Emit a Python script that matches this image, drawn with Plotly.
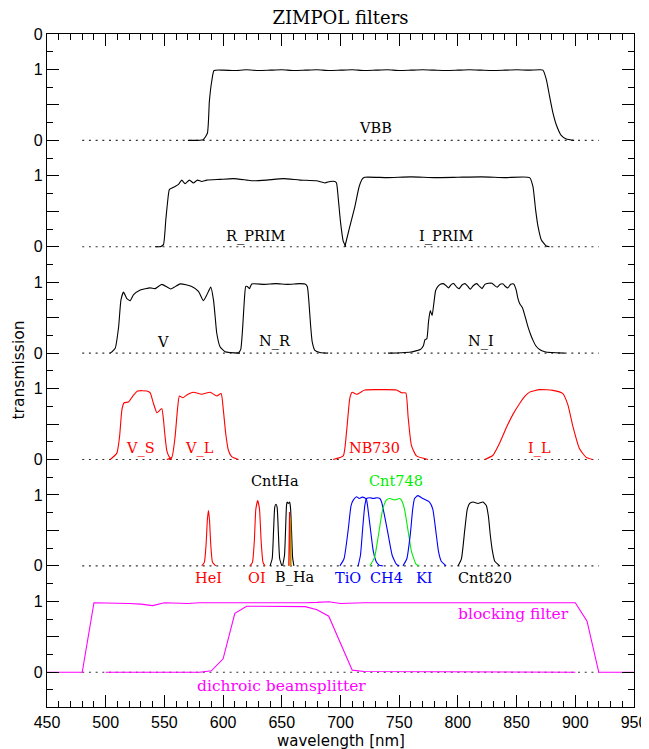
import plotly.graph_objects as go

# ---------------- data (wavelength in nm, transmission 0..1) ----------------
VBB_WL = [570, 583, 586.6, 588.3, 590.3, 592.3, 600, 610, 620, 630, 640, 650, 660, 670, 680, 690,
          700, 710, 720, 730, 740, 750, 760, 770, 780, 790, 800, 810, 820, 830, 840, 850, 860,
          870, 872.4, 875.3, 878.1, 880.9, 883.8, 888, 892.3, 899]
VBB_TR = [0, 0.01, 0.1, 0.55, 0.83, 0.985, 0.99, 0.985, 0.995, 0.985, 0.99, 0.995, 0.985, 0.99,
          0.995, 0.985, 0.99, 0.995, 0.985, 0.99, 0.995, 0.985, 0.99, 0.995, 0.99, 0.985, 0.99,
          0.995, 0.99, 0.985, 0.99, 0.995, 0.99, 0.995, 0.99, 0.86, 0.62, 0.39, 0.22, 0.07, 0.02, 0]

RPRIM_WL = [542, 547, 549.2, 551.2, 552.9, 554.3, 559.1, 562, 564.8, 567.6, 571.3, 574.7, 578.1,
            581.8, 586.1, 597.4, 608.7, 620.1, 625.8, 637.1, 651.3, 665.4, 679.6, 686.7, 691,
            695.2, 696.6, 698, 700, 702.3, 704.6]
RPRIM_TR = [0, 0.005, 0.03, 0.38, 0.66, 0.81, 0.85, 0.88, 0.94, 0.89, 0.94, 0.9, 0.94, 0.92,
            0.94, 0.95, 0.96, 0.94, 0.93, 0.94, 0.96, 0.94, 0.93, 0.9, 0.92, 0.92, 0.9, 0.7,
            0.35, 0.08, 0]

IPRIM_WL = [703.7, 708, 712.3, 715.9, 718.8, 720.7, 740, 760, 780, 800, 820, 840, 861.1, 863.9,
            866.2, 868.2, 871, 875.3, 878]
IPRIM_TR = [0, 0.29, 0.57, 0.85, 0.96, 0.98, 0.975, 0.985, 0.975, 0.98, 0.985, 0.975, 0.975, 0.85,
            0.52, 0.29, 0.1, 0.01, 0]

V_WL = [503.9, 508.1, 511, 513, 515.2, 518, 520.9, 523.6, 529.4, 537.9, 542.1, 547.8, 555.4,
        563.4, 573.3, 579, 583.2, 586.1, 589.5, 591.8, 593.2, 594.6, 597.4, 601.7, 614.4]
V_TR = [0, 0.07, 0.37, 0.75, 0.86, 0.77, 0.74, 0.82, 0.89, 0.92, 0.91, 0.97, 0.905, 0.976, 0.94,
        0.87, 0.74, 0.82, 0.93, 0.75, 0.52, 0.28, 0.09, 0.02, 0]

NR_WL = [613, 615, 616.7, 618.1, 619.3, 620.6, 622.4, 624.4, 635, 645, 655, 665, 669.7, 671.7,
         673.1, 674.5, 675.9, 678.2, 682.5, 689.5]
NR_TR = [0, 0.05, 0.37, 0.75, 0.94, 0.94, 0.91, 0.976, 0.97, 0.98, 0.97, 0.98, 0.975, 0.94, 0.72,
         0.4, 0.16, 0.04, 0.01, 0]

NI_WL = [740.5, 752, 760, 765, 768, 770.5, 772, 773.5, 775, 776.5, 778, 779.5, 781, 783, 785,
         787.5, 790, 792, 794.5, 796.5, 799, 801, 803.5, 806, 808.5, 810.5, 813, 816, 818.5,
         820.5, 823, 826, 829, 831.5, 833.5, 836, 838.5, 840.5, 842.5, 845, 847.5, 849.5, 851,
         852.6, 855, 857.5, 859.7, 862, 864, 866.5, 869.6, 874, 880, 891]
NI_TR = [0, 0.005, 0.015, 0.035, 0.05, 0.1, 0.19, 0.2, 0.45, 0.6, 0.53, 0.7, 0.88, 0.94, 0.97,
         0.98, 0.95, 0.92, 0.97, 0.98, 0.93, 0.91, 0.96, 0.98, 0.94, 0.9, 0.95, 0.98, 0.94, 0.91,
         0.97, 0.985, 0.985, 0.95, 0.93, 0.97, 0.975, 0.94, 0.92, 0.97, 0.975, 0.9, 0.78, 0.7,
         0.64, 0.5, 0.37, 0.26, 0.18, 0.1, 0.05, 0.02, 0.008, 0]

VS_WL = [503.9, 509.5, 511.8, 513.8, 515.7, 519.4, 523.1, 527.1, 535.1, 537.9, 540.7, 543.6,
         545.8, 547.8, 549.2, 550.6, 552, 554, 556.3]
VS_TR = [0, 0.09, 0.32, 0.7, 0.8, 0.81, 0.895, 0.966, 0.966, 0.94, 0.79, 0.66, 0.69, 0.72, 0.56,
         0.32, 0.13, 0.04, 0]

VL_WL = [552, 556.3, 559.1, 561.1, 562.8, 565.7, 569.1, 574.7, 581.8, 588.9, 594.6, 598.3, 600.2,
         602.2, 604.5, 607.3, 613]
VL_TR = [0, 0.03, 0.32, 0.7, 0.895, 0.87, 0.91, 0.948, 0.92, 0.948, 0.896, 0.93, 0.7, 0.37, 0.13,
         0.04, 0]

NB730_WL = [693.8, 702.3, 705.2, 708, 710, 713.7, 720.7, 735, 747.7, 752, 755.6, 757.6, 760.4,
            764.7, 774.6]
NB730_TR = [0, 0.05, 0.4, 0.87, 0.948, 0.92, 0.98, 0.985, 0.98, 0.94, 0.94, 0.6, 0.2, 0.05, 0]

IL_WL = [822.8, 829.9, 835.5, 841.3, 847, 852.6, 857, 861.1, 869.6, 880.9, 889.4, 893.7, 897.9,
         903.6, 909.3, 914.9]
IL_TR = [0, 0.06, 0.23, 0.45, 0.64, 0.79, 0.89, 0.95, 0.985, 0.975, 0.93, 0.77, 0.47, 0.15, 0.03,
         0]

HEI_WL = [581.8, 584, 585.5, 586.6, 587.5, 588.4, 589.5, 591, 593.7]
HEI_TR = [0, 0.05, 0.3, 0.65, 0.78, 0.65, 0.3, 0.05, 0]

OI_WL = [622.9, 625, 626.6, 627.9, 629.5, 631, 632.4, 634, 635.7]
OI_TR = [0, 0.05, 0.35, 0.8, 0.92, 0.8, 0.35, 0.05, 0]

CNTHA_WL = [640, 641.8, 643, 644, 645, 646, 647, 648.2, 650]
CNTHA_TR = [0, 0.1, 0.5, 0.83, 0.87, 0.83, 0.5, 0.1, 0]

BHA_WL = [650.7, 652.3, 653.3, 654, 654.6, 655.6, 656.7, 657.5, 658.4, 659.2, 660.3]
BHA_TR = [0, 0.15, 0.55, 0.85, 0.9, 0.88, 0.9, 0.8, 0.45, 0.12, 0]

NHA_WL = [655.9, 656.35, 656.6, 656.85, 657.3]
NHA_TR = [0, 0.5, 0.76, 0.5, 0]

NHA2_WL = [657.1, 657.35, 657.5, 657.65, 657.9]
NHA2_TR = [0, 0.5, 0.68, 0.5, 0]

TIO_WL = [699.5, 703, 706.5, 709, 711, 713.7, 716, 718.5, 720.5, 722.2, 724, 726, 728, 730.7, 733,
          736]
TIO_TR = [0, 0.1, 0.5, 0.85, 0.93, 0.975, 0.95, 0.97, 0.96, 0.93, 0.72, 0.45, 0.2, 0.05, 0.01, 0]

CH4_WL = [715, 717, 719, 720.7, 722.2, 725, 728, 731, 733.5, 735, 737, 740.5, 744, 747.7, 750]
CH4_TR = [0, 0.15, 0.55, 0.85, 0.95, 0.96, 0.95, 0.96, 0.95, 0.9, 0.75, 0.45, 0.15, 0.02, 0]

CNT748_WL = [725, 729, 732, 736, 739.2, 741.9, 746.1, 750.4, 751.8, 754.5, 757.5, 760.5, 764.5,
             767]
CNT748_TR = [0, 0.12, 0.4, 0.8, 0.93, 0.95, 0.93, 0.95, 0.93, 0.8, 0.5, 0.2, 0.02, 0]

KI_WL = [753.2, 756.5, 759.5, 761.5, 763.1, 765.9, 770.1, 775.8, 778.6, 781.5, 783.5, 785.7, 790]
KI_TR = [0, 0.1, 0.45, 0.8, 0.95, 0.99, 0.95, 0.9, 0.8, 0.45, 0.2, 0.07, 0]

CNT820_WL = [800.1, 803, 805.8, 808, 810, 812.9, 817.1, 821.4, 824.2, 826, 827.5, 829.5, 831.3,
             835.6]
CNT820_TR = [0, 0.1, 0.5, 0.8, 0.88, 0.9, 0.88, 0.9, 0.85, 0.7, 0.45, 0.2, 0.07, 0]

BLOCK_WL = [450, 480, 490, 500, 510, 520, 530, 540, 550, 560, 570, 580, 590, 600, 610, 620, 630,
            640, 650, 660, 670, 680, 690, 700, 710, 720, 730, 740, 750, 760, 770, 780, 790, 800,
            810, 820, 830, 840, 850, 860, 870, 880, 890, 900, 910, 920, 950]
BLOCK_TR = [0, 0, 0.98, 0.98, 0.98, 0.97, 0.96, 0.94, 0.98, 0.97, 0.97, 0.98, 0.98, 0.97, 0.97,
            0.98, 0.975, 0.97, 0.975, 0.98, 0.98, 0.985, 0.995, 0.97, 0.98, 0.98, 0.98, 0.98,
            0.98, 0.98, 0.98, 0.98, 0.98, 0.98, 0.98, 0.98, 0.98, 0.98, 0.98, 0.98, 0.98, 0.98,
            0.98, 0.98, 0.72, 0, 0]

DICHRO_WL = [500, 580, 590, 600, 610, 620, 630, 640, 650, 660, 670, 680, 690, 700, 710, 720, 900]
DICHRO_TR = [0, 0, 0.02, 0.19, 0.83, 0.93, 0.93, 0.93, 0.935, 0.93, 0.925, 0.88, 0.79, 0.41,
             0.03, 0.01, 0]

BASE_WL = [480, 920]
BASE_TR = [0, 0]

X_TITLE = "wavelength [nm]"
Y_TITLE = "transmission"
TITLE = "ZIMPOL filters"

# ---------------- figure ----------------
PANEL_STEP = 1.5   # vertical offset between stacked panels (layout)
BLACK, RED, GREEN, BLUE, MAG = "#000000", "#ff0000", "#00ee00", "#0000ff", "#ff00ff"

# (wl, tr, color, panel index from bottom, smooth)
curves = [
    (VBB_WL, VBB_TR, BLACK, 5, True),
    (RPRIM_WL, RPRIM_TR, BLACK, 4, True),
    (IPRIM_WL, IPRIM_TR, BLACK, 4, True),
    (V_WL, V_TR, BLACK, 3, True),
    (NR_WL, NR_TR, BLACK, 3, True),
    (NI_WL, NI_TR, BLACK, 3, True),
    (VS_WL, VS_TR, RED, 2, True),
    (VL_WL, VL_TR, RED, 2, True),
    (NB730_WL, NB730_TR, RED, 2, True),
    (IL_WL, IL_TR, RED, 2, True),
    (HEI_WL, HEI_TR, RED, 1, True),
    (OI_WL, OI_TR, RED, 1, True),
    (CNTHA_WL, CNTHA_TR, BLACK, 1, True),
    (BHA_WL, BHA_TR, BLACK, 1, True),
    (NHA_WL, NHA_TR, RED, 1, False),
    (NHA2_WL, NHA2_TR, "#b88a00", 1, False),
    (TIO_WL, TIO_TR, BLUE, 1, True),
    (CH4_WL, CH4_TR, BLUE, 1, True),
    (CNT748_WL, CNT748_TR, GREEN, 1, True),
    (KI_WL, KI_TR, BLUE, 1, True),
    (CNT820_WL, CNT820_TR, BLACK, 1, True),
    (BLOCK_WL, BLOCK_TR, MAG, 0, False),
    (DICHRO_WL, DICHRO_TR, MAG, 0, False),
]

fig = go.Figure()

# dotted zero baselines
for p in range(6):
    off = p * PANEL_STEP
    fig.add_trace(go.Scatter(x=BASE_WL, y=[v + off for v in BASE_TR], mode="lines",
                             line=dict(color="#333333", width=1.2, dash="2px,4.7px"),
                             hoverinfo="skip", showlegend=False))

for wl, tr, col, p, smooth in curves:
    off = p * PANEL_STEP
    line = dict(color=col, width=1.1)
    if smooth:
        line.update(shape="spline", smoothing=0.5)
    fig.add_trace(go.Scatter(x=wl, y=[v + off for v in tr], mode="lines", line=line,
                             showlegend=False))

# labels: (text, wavelength, height above panel zero, panel, color, size)
labels = [
    ("VBB", 730, 0.18, 5, BLACK, 14.5),
    ("R_PRIM", 628, 0.15, 4, BLACK, 14.5),
    ("I_PRIM", 790, 0.15, 4, BLACK, 14.5),
    ("V", 549, 0.16, 3, BLACK, 14.5),
    ("N_R", 644, 0.16, 3, BLACK, 14.5),
    ("N_I", 820, 0.16, 3, BLACK, 14.5),
    ("V_S", 529.5, 0.16, 2, RED, 14.5),
    ("V_L", 579.5, 0.16, 2, RED, 14.5),
    ("NB730", 729, 0.16, 2, RED, 14.5),
    ("I_L", 869.5, 0.16, 2, RED, 14.5),
    ("CntHa", 644, -0.31, 2, BLACK, 14.5),
    ("Cnt748", 747, -0.31, 2, GREEN, 14.5),
    ("HeI", 587.5, -0.17, 1, RED, 14.5),
    ("OI", 628.6, -0.17, 1, RED, 14.5),
    ("B_Ha", 661.5, -0.17, 1, BLACK, 14.5),
    ("TiO", 706.5, -0.17, 1, BLUE, 14.5),
    ("CH4", 739.2, -0.17, 1, BLUE, 14.5),
    ("KI", 771.8, -0.17, 1, BLUE, 14.5),
    ("Cnt820", 822.8, -0.17, 1, BLACK, 14.5),
    ("blocking filter", 847, 0.82, 0, MAG, 15.5),
    ("dichroic beamsplitter", 649.5, -0.2, 0, MAG, 15.5),
]
for txt, x, y, p, col, sz in labels:
    fig.add_annotation(x=x, y=y + p * PANEL_STEP, text=txt, showarrow=False,
                       xanchor="center", yanchor="middle",
                       font=dict(family="DejaVu Serif", size=sz, color=col))

# axis titles as annotations (exact placement)
fig.add_annotation(x=0.5, y=0, xref="paper", yref="paper", yshift=-33.5, text=X_TITLE,
                   showarrow=False, xanchor="center", yanchor="middle",
                   font=dict(family="DejaVu Sans", size=15, color="black"))
fig.add_annotation(x=0, y=0.5, xref="paper", yref="paper", xshift=-29, text=Y_TITLE,
                   showarrow=False, xanchor="center", yanchor="middle", textangle=-90,
                   font=dict(family="DejaVu Sans", size=15.5, color="black"))

# y ticks: labelled 0/1 for each panel, long ticks every 0.5
ytickvals = [i * 0.5 for i in range(-1, 19)]
yticktext = []
for v in ytickvals:
    r = round(v % PANEL_STEP, 3)
    yticktext.append("0" if r == 0 else ("1" if r == 1 else ""))

axis_font = dict(family="Liberation Sans", size=16, color="black")

# the page body adds an 8px offset; the figure is sized/margined to compensate
FIG_W, FIG_H = 641, 741
fig.update_layout(
    width=FIG_W, height=FIG_H,
    margin=dict(l=38.7, r=14.5, t=26.3, b=42.3, pad=0),
    paper_bgcolor="white", plot_bgcolor="white",
    title=dict(text=TITLE, x=0.5, xref="paper", xanchor="center",
               y=1 - 10 / FIG_H, yref="container", yanchor="middle",
               font=dict(family="DejaVu Serif", size=18, color="black")),
    xaxis=dict(range=[450, 950], tick0=450, dtick=50, ticks="inside", ticklen=12,
               tickcolor="black", tickwidth=1, showline=True, linecolor="black",
               linewidth=1.2, mirror="allticks", showgrid=False, zeroline=False,
               tickfont=axis_font, automargin=False, ticklabelstandoff=1,
               minor=dict(dtick=10, tick0=450, ticks="inside", ticklen=6,
                          tickcolor="black", tickwidth=1, showgrid=False)),
    yaxis=dict(range=[-0.49, 9.0], tickmode="array", tickvals=ytickvals, ticktext=yticktext,
               ticks="inside", ticklen=12, tickcolor="black", tickwidth=1,
               showline=True, linecolor="black", linewidth=1.2, mirror="allticks",
               showgrid=False, zeroline=False, tickfont=axis_font, automargin=False,
               minor=dict(tickmode="linear", dtick=0.25, tick0=0, ticks="inside", ticklen=6,
                          tickcolor="black", tickwidth=1, showgrid=False)),
)

fig.write_html("out.html")
